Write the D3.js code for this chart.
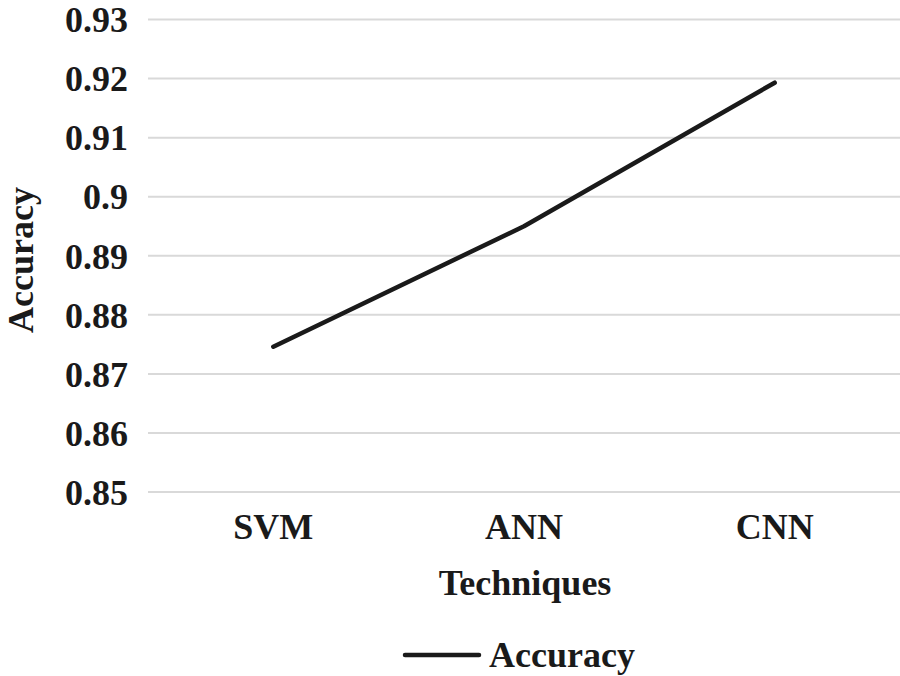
<!DOCTYPE html>
<html>
<head>
<meta charset="utf-8">
<script src="https://cdn.jsdelivr.net/npm/d3@7"></script>
<style>
  html, body { margin: 0; padding: 0; background: #fff; }
</style>
</head>
<body>
<svg id="chart" width="900" height="676" font-family="Liberation Serif" font-weight="bold"></svg>
<script>
const categories = ["SVM", "ANN", "CNN"];
const accuracy = [0.8746, 0.8950, 0.9193];
const yTicks = [0.85, 0.86, 0.87, 0.88, 0.89, 0.90, 0.91, 0.92, 0.93];
const yTickLabels = ["0.85", "0.86", "0.87", "0.88", "0.89", "0.9", "0.91", "0.92", "0.93"];
const seriesName = "Accuracy";
const xTitle = "Techniques";
const yTitle = "Accuracy";

const FONT = "Liberation Serif";
const INK = "#1a1a1a";
const svg = d3.select("#chart");
const plotLeft = 148, plotRight = 900, plotTop = 19.5, plotBottom = 492;

const x = d3.scaleBand().domain(categories).range([plotLeft, plotRight]);
const y = d3.scaleLinear().domain([0.85, 0.93]).range([plotBottom, plotTop]);

// gridlines
svg.append("g").selectAll("line").data(yTicks).join("line")
  .attr("x1", plotLeft).attr("x2", plotRight)
  .attr("y1", d => y(d)).attr("y2", d => y(d))
  .attr("stroke", "#d9d9d9").attr("stroke-width", 2);

// y axis labels
const yAxis = d3.axisLeft(y).tickValues(yTicks)
  .tickFormat((d, i) => yTickLabels[i]).tickSize(0).tickPadding(20);
const yg = svg.append("g").attr("transform", `translate(${plotLeft},0)`).call(yAxis)
  .attr("font-family", FONT).attr("font-size", 36);
yg.select(".domain").remove();
yg.selectAll("text").attr("dy", "0.34em")
  .attr("font-family", FONT).attr("font-weight", "bold").attr("font-size", 36).attr("fill", INK);

// x axis labels
const xAxis = d3.axisBottom(x).tickSize(0).tickPadding(0);
const xg = svg.append("g").attr("transform", `translate(0,${plotBottom})`).call(xAxis)
  .attr("font-family", FONT).attr("font-size", 36);
xg.select(".domain").remove();
xg.selectAll("text").attr("y", 47).attr("dy", 0)
  .attr("font-family", FONT).attr("font-weight", "bold").attr("font-size", 36).attr("fill", INK);

// line
const line = d3.line()
  .x((d, i) => x(categories[i]) + x.bandwidth() / 2)
  .y(d => y(d));
svg.append("path").datum(accuracy)
  .attr("d", line).attr("fill", "none")
  .attr("stroke", INK).attr("stroke-width", 4.5)
  .attr("stroke-linecap", "round").attr("stroke-linejoin", "round");

// axis titles
svg.append("text").attr("x", 525).attr("y", 595).attr("text-anchor", "middle")
  .attr("font-family", FONT).attr("font-weight", "bold").attr("fill", INK)
  .attr("font-size", 36).text(xTitle);
svg.append("text").attr("transform", "translate(33,260) rotate(-90)")
  .attr("font-family", FONT).attr("font-weight", "bold").attr("fill", INK)
  .attr("text-anchor", "middle").attr("font-size", 36).text(yTitle);

// legend
svg.append("line").attr("x1", 405).attr("x2", 479).attr("y1", 655).attr("y2", 655)
  .attr("stroke", INK).attr("stroke-width", 4.5).attr("stroke-linecap", "round");
svg.append("text").attr("x", 489).attr("y", 667)
  .attr("font-family", FONT).attr("font-weight", "bold").attr("fill", INK)
  .attr("font-size", 36).text(seriesName);
</script>
</body>
</html>
